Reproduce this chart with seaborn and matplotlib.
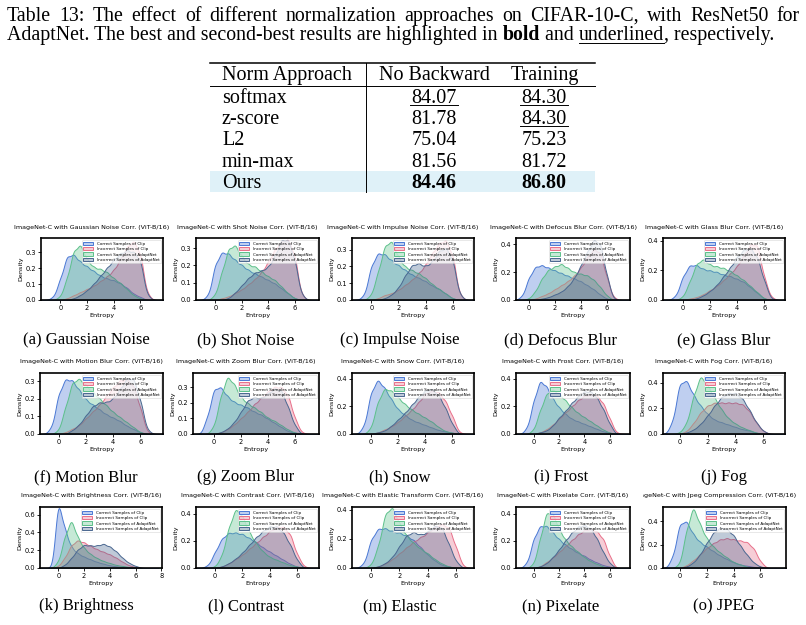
import numpy as np
import matplotlib
matplotlib.use("Agg")
import matplotlib.pyplot as plt
from matplotlib.transforms import Bbox
import seaborn as sns

entropy = [-0.5, 0.0, 0.5, 1.0, 1.5, 2.0, 2.5, 3.0, 3.5, 4.0, 4.5, 5.0, 5.5, 6.0, 6.5]

series_names = ["Correct Samples of Clip", "Incorrect Samples of Clip",
                "Correct Samples of AdaptNet", "Incorrect Samples of AdaptNet"]
series_colors = ["#4a78d4", "#e8708a", "#5cc08a", "#4a6790"]

corruptions = ["Gaussian Noise", "Shot Noise", "Impulse Noise", "Defocus Blur", "Glass Blur",
               "Motion Blur", "Zoom Blur", "Snow", "Frost", "Fog",
               "Brightness", "Contrast", "Elastic Transform", "Pixelate", "Jpeg Compression"]
sub_captions = ["(a) Gaussian Noise", "(b) Shot Noise", "(c) Impulse Noise", "(d) Defocus Blur",
                "(e) Glass Blur", "(f) Motion Blur", "(g) Zoom Blur", "(h) Snow", "(i) Frost",
                "(j) Fog", "(k) Brightness", "(l) Contrast", "(m) Elastic", "(n) Pixelate", "(o) JPEG"]

clip_correct = [
    [0.02, 0.14, 0.29, 0.30, 0.25, 0.22, 0.19, 0.16, 0.14, 0.13, 0.11, 0.08, 0.04, 0.02, 0.0],
    [0.03, 0.22, 0.29, 0.28, 0.24, 0.21, 0.18, 0.16, 0.14, 0.12, 0.10, 0.07, 0.04, 0.01, 0.0],
    [0.03, 0.22, 0.30, 0.29, 0.25, 0.22, 0.19, 0.16, 0.14, 0.12, 0.09, 0.07, 0.04, 0.01, 0.0],
    [0.03, 0.17, 0.25, 0.26, 0.24, 0.22, 0.20, 0.18, 0.16, 0.14, 0.11, 0.08, 0.04, 0.01, 0.0],
    [0.03, 0.17, 0.25, 0.25, 0.22, 0.21, 0.20, 0.18, 0.17, 0.15, 0.13, 0.09, 0.05, 0.01, 0.0],
    [0.04, 0.25, 0.34, 0.33, 0.27, 0.21, 0.18, 0.15, 0.12, 0.10, 0.08, 0.05, 0.03, 0.01, 0.0],
    [0.12, 0.33, 0.34, 0.27, 0.23, 0.21, 0.19, 0.16, 0.14, 0.11, 0.08, 0.05, 0.02, 0.01, 0.0],
    [0.06, 0.33, 0.43, 0.36, 0.27, 0.19, 0.15, 0.11, 0.09, 0.07, 0.05, 0.03, 0.02, 0.01, 0.0],
    [0.05, 0.27, 0.43, 0.38, 0.28, 0.21, 0.16, 0.12, 0.10, 0.08, 0.06, 0.04, 0.02, 0.01, 0.0],
    [0.10, 0.44, 0.46, 0.33, 0.24, 0.17, 0.12, 0.10, 0.08, 0.06, 0.04, 0.03, 0.01, 0.0, 0.0],
    [0.0, 0.80, 0.45, 0.24, 0.17, 0.13, 0.10, 0.07, 0.05, 0.03, 0.02, 0.01, 0.0, 0.0, 0.0],
    [0.02, 0.12, 0.22, 0.26, 0.26, 0.25, 0.22, 0.19, 0.15, 0.12, 0.09, 0.06, 0.03, 0.01, 0.0],
    [0.03, 0.20, 0.27, 0.27, 0.25, 0.24, 0.22, 0.19, 0.14, 0.09, 0.05, 0.02, 0.01, 0.0, 0.0],
    [0.04, 0.22, 0.31, 0.31, 0.26, 0.21, 0.17, 0.14, 0.11, 0.09, 0.06, 0.04, 0.02, 0.01, 0.0],
    [0.10, 0.40, 0.42, 0.30, 0.23, 0.19, 0.15, 0.11, 0.08, 0.05, 0.03, 0.02, 0.01, 0.0, 0.0],
]
clip_incorrect = [
    [0.0, 0.0, 0.01, 0.03, 0.05, 0.07, 0.09, 0.12, 0.15, 0.19, 0.26, 0.34, 0.38, 0.30, 0.04],
    [0.0, 0.0, 0.01, 0.02, 0.04, 0.06, 0.09, 0.12, 0.16, 0.22, 0.29, 0.34, 0.35, 0.26, 0.03],
    [0.0, 0.0, 0.01, 0.03, 0.04, 0.06, 0.09, 0.12, 0.16, 0.21, 0.28, 0.34, 0.36, 0.27, 0.03],
    [0.0, 0.0, 0.01, 0.03, 0.05, 0.08, 0.11, 0.14, 0.18, 0.24, 0.32, 0.38, 0.36, 0.17, 0.02],
    [0.0, 0.0, 0.01, 0.02, 0.04, 0.07, 0.10, 0.14, 0.19, 0.24, 0.32, 0.40, 0.40, 0.16, 0.02],
    [0.0, 0.0, 0.01, 0.03, 0.05, 0.09, 0.13, 0.17, 0.22, 0.27, 0.31, 0.32, 0.28, 0.15, 0.01],
    [0.0, 0.0, 0.01, 0.03, 0.06, 0.10, 0.14, 0.19, 0.23, 0.27, 0.30, 0.30, 0.25, 0.10, 0.01],
    [0.0, 0.0, 0.01, 0.03, 0.05, 0.08, 0.12, 0.16, 0.21, 0.27, 0.29, 0.28, 0.22, 0.12, 0.01],
    [0.0, 0.0, 0.01, 0.03, 0.06, 0.10, 0.14, 0.18, 0.22, 0.25, 0.26, 0.25, 0.20, 0.10, 0.01],
    [0.0, 0.0, 0.02, 0.08, 0.16, 0.21, 0.23, 0.23, 0.23, 0.23, 0.22, 0.17, 0.08, 0.02, 0.0],
    [0.0, 0.02, 0.12, 0.27, 0.33, 0.30, 0.26, 0.22, 0.19, 0.16, 0.12, 0.07, 0.03, 0.01, 0.0],
    [0.0, 0.0, 0.01, 0.03, 0.06, 0.09, 0.13, 0.17, 0.21, 0.25, 0.28, 0.28, 0.23, 0.09, 0.01],
    [0.0, 0.0, 0.01, 0.03, 0.06, 0.10, 0.14, 0.18, 0.21, 0.24, 0.28, 0.30, 0.28, 0.14, 0.01],
    [0.0, 0.0, 0.01, 0.04, 0.07, 0.11, 0.15, 0.19, 0.23, 0.26, 0.27, 0.25, 0.20, 0.08, 0.0],
    [0.0, 0.0, 0.02, 0.06, 0.11, 0.16, 0.20, 0.23, 0.24, 0.23, 0.22, 0.21, 0.16, 0.05, 0.0],
]
adapt_correct = [
    [0.0, 0.02, 0.14, 0.32, 0.36, 0.26, 0.21, 0.20, 0.18, 0.14, 0.11, 0.07, 0.03, 0.01, 0.0],
    [0.0, 0.03, 0.17, 0.31, 0.33, 0.26, 0.21, 0.20, 0.17, 0.14, 0.12, 0.08, 0.04, 0.01, 0.0],
    [0.0, 0.03, 0.18, 0.35, 0.38, 0.27, 0.21, 0.19, 0.17, 0.14, 0.10, 0.07, 0.04, 0.01, 0.0],
    [0.0, 0.01, 0.06, 0.15, 0.21, 0.23, 0.25, 0.22, 0.19, 0.18, 0.17, 0.14, 0.09, 0.03, 0.0],
    [0.0, 0.02, 0.12, 0.24, 0.27, 0.23, 0.22, 0.21, 0.19, 0.16, 0.13, 0.09, 0.05, 0.01, 0.0],
    [0.0, 0.02, 0.16, 0.31, 0.33, 0.29, 0.25, 0.21, 0.17, 0.13, 0.10, 0.07, 0.04, 0.01, 0.0],
    [0.0, 0.05, 0.26, 0.40, 0.34, 0.25, 0.21, 0.18, 0.15, 0.11, 0.09, 0.06, 0.03, 0.01, 0.0],
    [0.0, 0.04, 0.24, 0.34, 0.32, 0.27, 0.22, 0.18, 0.15, 0.12, 0.09, 0.05, 0.02, 0.01, 0.0],
    [0.0, 0.03, 0.17, 0.29, 0.32, 0.29, 0.24, 0.19, 0.15, 0.12, 0.09, 0.06, 0.03, 0.01, 0.0],
    [0.0, 0.01, 0.08, 0.30, 0.46, 0.38, 0.28, 0.19, 0.12, 0.08, 0.05, 0.03, 0.01, 0.0, 0.0],
    [0.0, 0.06, 0.32, 0.50, 0.31, 0.20, 0.14, 0.10, 0.07, 0.05, 0.03, 0.02, 0.01, 0.0, 0.0],
    [0.0, 0.01, 0.09, 0.30, 0.44, 0.38, 0.26, 0.18, 0.12, 0.08, 0.06, 0.04, 0.02, 0.01, 0.0],
    [0.0, 0.02, 0.15, 0.38, 0.42, 0.30, 0.22, 0.17, 0.13, 0.10, 0.06, 0.03, 0.01, 0.0, 0.0],
    [0.0, 0.03, 0.22, 0.42, 0.41, 0.29, 0.21, 0.16, 0.12, 0.08, 0.05, 0.03, 0.01, 0.0, 0.0],
    [0.0, 0.03, 0.32, 0.53, 0.37, 0.25, 0.18, 0.13, 0.09, 0.05, 0.03, 0.01, 0.0, 0.0, 0.0],
]
adapt_incorrect = [
    [0.0, 0.0, 0.0, 0.01, 0.03, 0.06, 0.10, 0.15, 0.20, 0.25, 0.29, 0.31, 0.30, 0.25, 0.03],
    [0.0, 0.0, 0.0, 0.01, 0.04, 0.08, 0.12, 0.15, 0.16, 0.18, 0.24, 0.33, 0.33, 0.22, 0.03],
    [0.0, 0.0, 0.0, 0.01, 0.03, 0.07, 0.14, 0.20, 0.21, 0.19, 0.22, 0.28, 0.30, 0.23, 0.03],
    [0.0, 0.0, 0.0, 0.01, 0.02, 0.04, 0.06, 0.10, 0.16, 0.25, 0.35, 0.44, 0.42, 0.18, 0.01],
    [0.0, 0.0, 0.0, 0.01, 0.03, 0.06, 0.10, 0.16, 0.22, 0.29, 0.34, 0.35, 0.29, 0.13, 0.01],
    [0.0, 0.0, 0.0, 0.02, 0.05, 0.10, 0.15, 0.17, 0.17, 0.19, 0.24, 0.30, 0.30, 0.18, 0.02],
    [0.0, 0.0, 0.01, 0.03, 0.07, 0.13, 0.20, 0.22, 0.21, 0.24, 0.27, 0.26, 0.16, 0.05, 0.0],
    [0.0, 0.0, 0.01, 0.02, 0.05, 0.09, 0.13, 0.18, 0.23, 0.27, 0.28, 0.24, 0.16, 0.06, 0.0],
    [0.0, 0.0, 0.01, 0.02, 0.05, 0.10, 0.14, 0.19, 0.23, 0.26, 0.26, 0.22, 0.15, 0.06, 0.0],
    [0.0, 0.0, 0.01, 0.03, 0.07, 0.13, 0.20, 0.26, 0.29, 0.29, 0.25, 0.17, 0.08, 0.02, 0.0],
    [0.0, 0.0, 0.03, 0.10, 0.19, 0.24, 0.23, 0.23, 0.25, 0.22, 0.17, 0.10, 0.05, 0.02, 0.0],
    [0.0, 0.0, 0.01, 0.03, 0.06, 0.10, 0.15, 0.20, 0.24, 0.27, 0.27, 0.23, 0.15, 0.05, 0.0],
    [0.0, 0.0, 0.01, 0.03, 0.07, 0.14, 0.21, 0.23, 0.21, 0.23, 0.27, 0.26, 0.15, 0.04, 0.0],
    [0.0, 0.0, 0.01, 0.03, 0.07, 0.12, 0.18, 0.23, 0.27, 0.28, 0.26, 0.19, 0.10, 0.03, 0.0],
    [0.0, 0.0, 0.01, 0.04, 0.10, 0.19, 0.27, 0.31, 0.30, 0.25, 0.17, 0.10, 0.04, 0.01, 0.0],
]

x_limits = [(-1.47, 7.7), (-1.46, 7.84), (-1.42, 7.57), (-1.0, 7.8), (-1.47, 7.54),
            (-1.37, 7.66), (-1.56, 7.8), (-1.4, 7.6), (-1.4, 7.6), (-1.19, 7.55),
            (-1.42, 8.04), (-1.4, 7.6), (-1.36, 7.27), (-1.4, 7.6), (-1.24, 7.9)]
y_tops = [0.39, 0.358, 0.37, 0.443, 0.42, 0.347, 0.39, 0.44, 0.44, 0.478,
          0.685, 0.45, 0.42, 0.45, 0.52]

table_methods = ["softmax", "z-score", "L2", "min-max", "Ours"]
no_backward = ["84.07", "81.78", "75.04", "81.56", "84.46"]
training = ["84.30", "84.30", "75.23", "81.72", "86.80"]

W, H = 806, 625
fig = plt.figure(figsize=(W / 100, H / 100), dpi=100)
page = fig.add_axes([0, 0, 1, 1])
page.set_xlim(0, W)
page.set_ylim(H, 0)
page.axis("off")
serif = "Liberation Serif"
cap_fs = 14.3
tab_fs = 14.5
renderer = fig.canvas.get_renderer()
inv = page.transData.inverted()

# caption, first line justified like the LaTeX source
line1 = "Table 13: The effect of different normalization approaches on CIFAR-10-C, with ResNet50 for"
words = line1.split(" ")
arts = [page.text(0, 21, wd, fontsize=cap_fs, family=serif, va="baseline") for wd in words]
widths = [a.get_window_extent(renderer).transformed(inv).width for a in arts]
gap = (800 - 7 - sum(widths)) / (len(words) - 1)
xpos = 7
for a, wd in zip(arts, widths):
    a.set_x(xpos)
    xpos += wd + gap

pieces = [("AdaptNet. The best and second-best results are highlighted in ", "normal", False),
          ("bold", "bold", False), (" and ", "normal", False), ("underlined", "normal", True),
          (", respectively.", "normal", False)]
xpos = 7
for txt, weight, under in pieces:
    t = page.text(xpos, 40, txt, fontsize=cap_fs, family=serif, weight=weight, va="baseline")
    bb = t.get_window_extent(renderer).transformed(inv)
    if under:
        page.plot([bb.x0, bb.x1], [42.5, 42.5], color="black", lw=0.7)
    xpos = bb.x1

# table
row_base = [102.6, 123.9, 145.2, 166.6, 187.9]
page.axhspan(170.6, 191.5, xmin=210 / W, xmax=595 / W, color="#dff1f8", lw=0)
page.plot([210, 595], [62.7, 62.7], color="black", lw=1.1)
page.plot([210, 595], [86, 86], color="black", lw=0.7)
page.plot([366, 366], [62.7, 191.5], color="black", lw=0.7)
page.text(222, 80, "Norm Approach", fontsize=tab_fs, family=serif, va="baseline")
page.text(434, 80, "No Backward", fontsize=tab_fs, family=serif, va="baseline", ha="center")
page.text(545, 80, "Training", fontsize=tab_fs, family=serif, va="baseline", ha="center")
for i, m in enumerate(table_methods):
    w = "bold" if m == "Ours" else "normal"
    page.text(222, row_base[i], m, fontsize=tab_fs, family=serif, va="baseline")
    page.text(434, row_base[i], no_backward[i], fontsize=tab_fs, family=serif, va="baseline",
              ha="center", weight=w)
    page.text(544, row_base[i], training[i], fontsize=tab_fs, family=serif, va="baseline",
              ha="center", weight=w)
page.plot([410, 458], [104.8, 104.8], color="black", lw=0.7)
page.plot([520, 568], [104.8, 104.8], color="black", lw=0.7)
page.plot([520, 568], [126.1, 126.1], color="black", lw=0.7)

# panel layout in pixels
col_lr = [[(40.7, 163), (196, 319), (352, 474), (516, 630), (663, 785)],
          [(40, 163), (193, 319), (352, 474), (516, 630), (663, 785)],
          [(40, 162), (196, 319), (352, 474), (516, 630), (663, 786)]]
row_tb = [(238, 300), (373, 434), (507, 568)]
title_y = [227, 362, 496]
cap_y = [340, 477, 606]
cap_x = [86, 246, 400, 561, 724]
clip_cols = [(0, 171), (171, 322), (322, 486), (486, 643), (643, 806)]

series = [clip_correct, clip_incorrect, adapt_correct, adapt_incorrect]
xs = np.array(entropy)
for k in range(15):
    r, c = divmod(k, 5)
    l, rr = col_lr[r][c]
    t, b = row_tb[r]
    ax = fig.add_axes([l / W, 1 - b / H, (rr - l) / W, (b - t) / H])
    for s in range(4):
        w = np.array(series[s][k])
        sd = np.sqrt(np.cov(xs, aweights=w))
        sns.kdeplot(x=xs, weights=w, fill=True, color=series_colors[s], alpha=0.35,
                    bw_method=0.25 / sd, linewidth=0.7, label=series_names[s], ax=ax)
    ax.set_xlim(*x_limits[k])
    ax.set_ylim(0, y_tops[k])
    ax.set_xticks([0, 2, 4, 6, 8] if k == 10 else [0, 2, 4, 6])
    ax.tick_params(labelsize=4.8, length=2, width=0.6, pad=1.5)
    ax.set_xlabel("Entropy", fontsize=4.6, labelpad=1.5)
    ax.set_ylabel("Density", fontsize=4.6, labelpad=1.5)
    for sp in ax.spines.values():
        sp.set_linewidth(1.2)
    ttl = page.text((l + rr) / 2 - 10, title_y[r], f"ImageNet-C with {corruptions[k]} Corr. (ViT-B/16)",
                    fontsize=4.6, ha="center", va="center")
    cl, cr = clip_cols[c]
    ttl.set_clip_box(Bbox([[cl, 0], [cr, H]]))
    ttl.set_clip_on(True)
    leg = ax.legend(loc="upper right", fontsize=3.0, handlelength=2.4, handleheight=0.9,
                    borderpad=0.35, labelspacing=0.3, framealpha=0.8, edgecolor="#cccccc")
    leg.get_frame().set_linewidth(0.4)
    page.text(cap_x[c], cap_y[r], sub_captions[k], fontsize=12, family=serif,
              va="center", ha="center")

fig.savefig("out.png", dpi=100)
